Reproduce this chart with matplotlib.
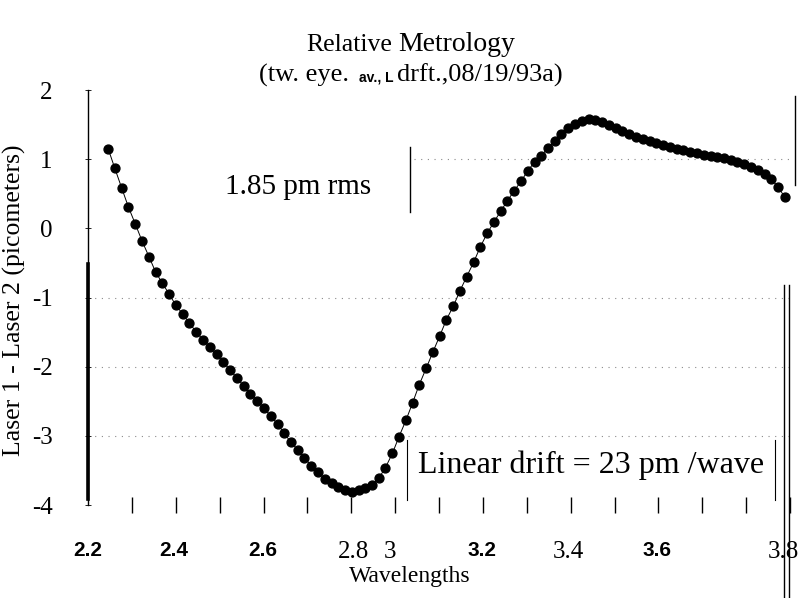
import matplotlib
matplotlib.use("Agg")
import matplotlib.pyplot as plt
from matplotlib.ticker import MultipleLocator

# data
wavelength = [2.246, 2.261, 2.277, 2.292, 2.308, 2.323, 2.339, 2.354, 2.369, 2.385,
              2.400, 2.416, 2.431, 2.447, 2.462, 2.477, 2.493, 2.508, 2.524, 2.539,
              2.555, 2.570, 2.585, 2.601, 2.616, 2.632, 2.647, 2.662, 2.678, 2.693,
              2.709, 2.724, 2.740, 2.755, 2.770, 2.786, 2.801, 2.817, 2.832, 2.848,
              2.863, 2.878, 2.894, 2.909, 2.925, 2.940, 2.955, 2.971, 2.986, 3.002,
              3.017, 3.033, 3.048, 3.063, 3.079, 3.094, 3.110, 3.125, 3.141, 3.156,
              3.171, 3.187, 3.202, 3.218, 3.233, 3.248, 3.264, 3.279, 3.295, 3.310,
              3.326, 3.341, 3.356, 3.372, 3.387, 3.403, 3.418, 3.434, 3.449, 3.464,
              3.480, 3.495, 3.511, 3.526, 3.542, 3.557, 3.572, 3.588, 3.603, 3.619,
              3.634, 3.649, 3.665, 3.680, 3.696, 3.711, 3.727, 3.742, 3.757, 3.773,
              3.788]
difference = [1.15, 0.87, 0.58, 0.31, 0.06, -0.18, -0.41, -0.63, -0.79, -0.95,
              -1.11, -1.24, -1.37, -1.50, -1.61, -1.71, -1.82, -1.93, -2.05, -2.16,
              -2.28, -2.39, -2.49, -2.60, -2.71, -2.83, -2.96, -3.09, -3.20, -3.32,
              -3.43, -3.53, -3.62, -3.68, -3.74, -3.78, -3.81, -3.79, -3.75, -3.71,
              -3.61, -3.46, -3.25, -3.01, -2.77, -2.52, -2.26, -2.02, -1.79, -1.55,
              -1.32, -1.12, -0.90, -0.70, -0.49, -0.27, -0.07, 0.09, 0.25, 0.40,
              0.54, 0.68, 0.83, 0.96, 1.05, 1.16, 1.26, 1.36, 1.45, 1.51,
              1.55, 1.58, 1.57, 1.54, 1.49, 1.45, 1.41, 1.36, 1.32, 1.29,
              1.26, 1.23, 1.21, 1.18, 1.15, 1.13, 1.10, 1.09, 1.06, 1.05,
              1.03, 1.02, 0.99, 0.96, 0.93, 0.89, 0.84, 0.79, 0.71, 0.60,
              0.45]

# x tick labels sit where the scan shows them
xtick_pos = [2.2, 2.396, 2.599, 2.804, 2.888, 3.098, 3.294, 3.497, 3.786]
xtick_text = ["2.2", "2.4", "2.6", "2.8", "3", "3.2", "3.4", "3.6", "3.8"]
xtick_bold = [True, True, True, False, False, True, False, True, False]
ytick_pos = [2, 1, 0, -1, -2, -3, -4]
grid_levels = [1, -1, -2, -3]
grid_start = [0.465, 0.0, 0.0, 0.0]

SERIF = "Liberation Serif"
SANS = ["Liberation Sans Narrow", "Liberation Sans"]
W, H = 805, 598

fig = plt.figure(figsize=(W / 100, H / 100), dpi=100)
ax = fig.add_axes([88 / W, 1 - 505 / H, (790 - 88) / W, (505 - 90) / H])
ax.set_xlim(2.2, 3.8)
ax.set_ylim(-4, 2)

for lev, x0 in zip(grid_levels, grid_start):
    ax.axhline(lev, xmin=x0, color="#8a8a8a", lw=0.8, ls=(0, (1, 5)), zorder=0)

ax.plot(wavelength, difference, color="black", lw=0.7, marker="o",
        ms=6.4, mfc="black", mec="black", zorder=3)

# frame: thin left axis, broken right edge like the scan
for side in ["top", "bottom", "right"]:
    ax.spines[side].set_visible(False)
ax.spines["left"].set_linewidth(1.0)
ax.plot([0, 0], [0.015, 0.58], transform=ax.transAxes, color="black",
        lw=2.6, clip_on=False)
ax.plot([1.007, 1.007], [0.77, 0.985], transform=ax.transAxes, color="black",
        lw=1.0, clip_on=False)
ax.plot([0.991, 0.991], [-0.225, 0.53], transform=ax.transAxes, color="black",
        lw=1.0, clip_on=False)
ax.plot([0.999, 0.999], [-0.225, 0.53], transform=ax.transAxes, color="black",
        lw=1.0, clip_on=False)

# y ticks
ax.set_yticks(ytick_pos)
ax.set_yticklabels([str(v) for v in ytick_pos], fontfamily=SERIF, fontsize=18)
ax.tick_params(axis="y", direction="inout", length=5, width=0.6, pad=23)

# x ticks
ax.set_xticks(xtick_pos)
ax.set_xticklabels(xtick_text)
for lab, bold in zip(ax.get_xticklabels(), xtick_bold):
    if bold:
        lab.set_fontfamily(SANS)
        lab.set_fontweight("bold")
        lab.set_fontsize(15)
    else:
        lab.set_fontfamily(SERIF)
        lab.set_fontsize(18)
ax.tick_params(axis="x", which="major", length=0, pad=26)
ax.xaxis.set_minor_locator(MultipleLocator(0.1))
ax.tick_params(axis="x", which="minor", direction="inout", length=11, width=1.0)

ax.set_ylabel("Laser 1 - Laser 2 (picometers)", fontfamily=SERIF, fontsize=18.5)
ax.yaxis.set_label_coords(-0.088, 0.494)
ax.set_xlabel("Wavelengths", fontfamily=SERIF, fontsize=17)
ax.xaxis.set_label_coords(0.459, -0.148)

# annotations
ax.text(0.299, 0.766, "1.85 pm rms", transform=ax.transAxes, ha="center",
        va="center", fontfamily=SERIF, fontsize=21)
ax.plot([0.459, 0.459], [0.706, 0.863], transform=ax.transAxes, color="black", lw=1.0)

ax.text(0.716, 0.096, "Linear drift = 23 pm /wave", transform=ax.transAxes,
        ha="center", va="center", fontfamily=SERIF, fontsize=23,
        bbox=dict(facecolor="white", edgecolor="none", pad=1))
ax.plot([0.454, 0.454], [0.012, 0.157], transform=ax.transAxes, color="black", lw=0.8)
ax.plot([0.978, 0.978], [0.012, 0.157], transform=ax.transAxes, color="black", lw=0.8)


# title pieces in mixed fonts, laid out side by side
def centered_line(y, pieces, xc=411):
    texts = [fig.text(0, y, s, va="baseline", **kw) for s, kw, gap in pieces]
    r = fig.canvas.get_renderer()
    widths = [t.get_window_extent(r).width for t in texts]
    total = sum(widths) + sum(gap for _, _, gap in pieces)
    x = xc - total / 2
    for t, w, (_, _, gap) in zip(texts, widths, pieces):
        t.set_x(x / W)
        x += w + gap


centered_line(1 - 51 / H, [
    ("Relative", dict(fontfamily=SERIF, fontsize=18.5), 6),
    ("Metrology", dict(fontfamily=SERIF, fontsize=20), 0),
])
centered_line(1 - 82 / H, [
    ("(tw. eye.", dict(fontfamily=SERIF, fontsize=19), 10),
    ("av., L", dict(fontfamily=SANS, fontsize=10, fontweight="bold"), 4),
    ("drft.,08/19/93a)", dict(fontfamily=SERIF, fontsize=19), 0),
])

fig.savefig("out.png", dpi=100)
